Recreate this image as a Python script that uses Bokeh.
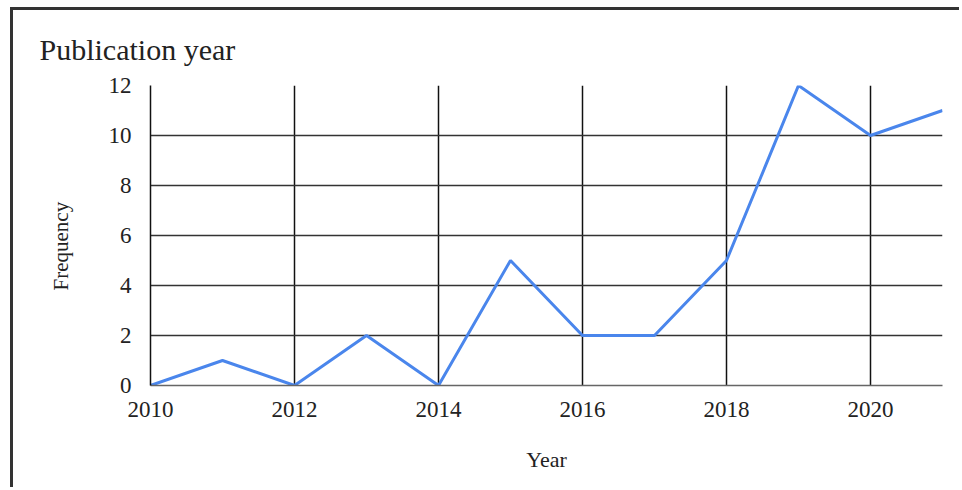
from bokeh.plotting import figure
from bokeh.models import Range1d, FixedTicker, Title
from bokeh.embed import file_html
from bokeh.resources import INLINE

years = [2010, 2011, 2012, 2013, 2014, 2015, 2016, 2017, 2018, 2019, 2020, 2021]
frequency = [0, 1, 0, 2, 0, 5, 2, 2, 5, 12, 10, 11]
x_ticks = [2010, 2012, 2014, 2016, 2018, 2020]
y_ticks = [0, 2, 4, 6, 8, 10, 12]

FONT = "Liberation Serif"

p = figure(width=949, height=480, output_backend="svg", toolbar_location=None,
           x_range=Range1d(2010, 2021), y_range=Range1d(0, 12),
           min_border_left=137, min_border_right=20, min_border_top=74, min_border_bottom=105,
           title="Publication year")
p.styles = {"margin-left": "10px", "margin-top": "7px",
            "border-left": "3px solid #333333", "border-top": "3px solid #333333"}
p.background_fill_color = "white"
p.border_fill_color = "white"
p.outline_line_color = None

p.title.text_font = FONT
p.title.text_font_size = "30px"
p.title.text_font_style = "normal"
p.title.text_color = "#222222"
p.title.align = "left"
p.title.offset = -111
p.title.standoff = 40

p.line(years, frequency, line_color="#4a86ec", line_width=3)

p.xaxis.ticker = FixedTicker(ticks=x_ticks)
p.yaxis.ticker = FixedTicker(ticks=y_ticks)
p.xgrid.ticker = FixedTicker(ticks=x_ticks)
p.ygrid.ticker = FixedTicker(ticks=y_ticks)
p.xgrid.grid_line_color = "#111111"
p.xgrid.grid_line_width = 1.5
p.ygrid.grid_line_color = "#333333"
p.ygrid.grid_line_width = 1.5

for ax in (p.xaxis, p.yaxis):
    ax.major_tick_line_color = None
    ax.minor_tick_line_color = None
    ax.major_label_text_font = FONT
    ax.major_label_text_font_size = "23px"
    ax.major_label_text_color = "#222222"
    ax.axis_label_text_font = FONT
    ax.axis_label_text_font_style = "normal"
    ax.axis_label_text_color = "#222222"

p.xaxis.axis_line_color = "#666666"
p.xaxis.axis_line_width = 1.5
p.yaxis.axis_line_color = "#111111"
p.yaxis.axis_line_width = 1.5
p.xaxis.major_label_standoff = 10
p.yaxis.major_label_standoff = 13
p.xaxis.axis_label = "Year"
p.xaxis.axis_label_text_font_size = "22px"
p.xaxis.axis_label_standoff = 27

ylab = Title(text="Frequency", align="left", offset=95, standoff=66,
             text_font=FONT, text_font_size="21px", text_font_style="normal",
             text_color="#222222")
p.add_layout(ylab, "left")

open("out.html", "w").write(file_html(p, INLINE))
